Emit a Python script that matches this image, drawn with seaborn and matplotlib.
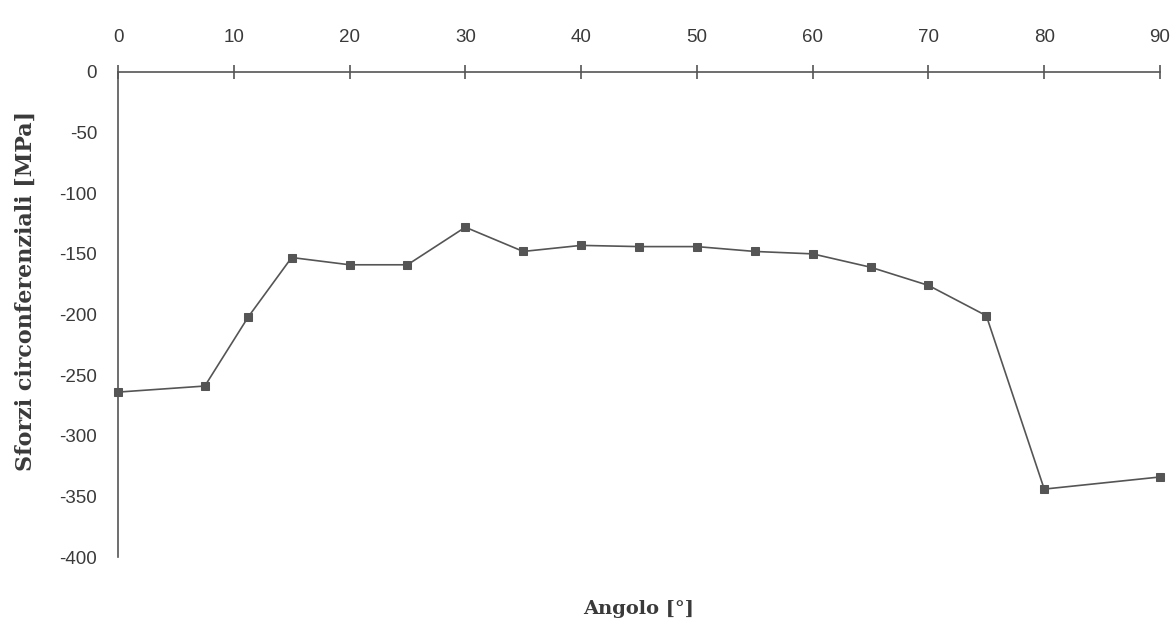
import matplotlib
matplotlib.use("Agg")
import matplotlib.pyplot as plt
import seaborn as sns
import pandas as pd

# Data
angolo = [0, 7.5, 11.25, 15, 20, 25, 30, 35, 40, 45, 50, 55, 60, 65, 70, 75, 80, 90]
sforzi = [-264, -259, -202, -153, -159, -159, -128, -148, -143, -144, -144, -148,
          -150, -161, -176, -201, -344, -334]
x_ticks = [0, 10, 20, 30, 40, 50, 60, 70, 80, 90]
y_ticks = [0, -50, -100, -150, -200, -250, -300, -350, -400]

df = pd.DataFrame({"Angolo": angolo, "Sforzi": sforzi})

sns.set_theme(style="white")
plt.rcParams["font.family"] = ["Liberation Sans", "DejaVu Sans"]
plt.rcParams["axes.unicode_minus"] = False

fig = plt.figure(figsize=(11.74, 6.22), dpi=100)
ax = fig.add_axes([118 / 1174, 1 - 557 / 622, (1160 - 118) / 1174, (557 - 72) / 622])

col = "#555555"
sns.lineplot(data=df, x="Angolo", y="Sforzi", ax=ax, color=col, linewidth=1.2,
             marker="s", markersize=6, markeredgecolor=col, markerfacecolor=col,
             clip_on=False)

ax.set_xlim(0, 90)
ax.set_ylim(-400, 0)
ax.set_xticks(x_ticks)
ax.set_yticks(y_ticks)

for s in ["right", "bottom"]:
    ax.spines[s].set_visible(False)
for s in ["top", "left"]:
    ax.spines[s].set_color(col)
    ax.spines[s].set_linewidth(1.2)

ax.xaxis.tick_top()
ax.tick_params(axis="x", direction="inout", length=10, width=1.2, color=col,
               labelsize=13.5, labelcolor="#3a3a3a", pad=14)
ax.tick_params(axis="y", direction="inout", length=10, width=1.2, color=col,
               labelsize=13.5, labelcolor="#3a3a3a", pad=10)
ax.grid(False)

serif = ["DejaVu Serif", "Liberation Serif"]
ax.set_xlabel("Angolo [°]", fontfamily=serif, fontweight="bold", fontsize=14, color="#3a3a3a")
ax.xaxis.set_label_position("bottom")
ax.xaxis.set_label_coords(0.5, -0.088)

ax.set_ylabel("Sforzi circonferenziali [MPa]", fontfamily=serif, fontweight="bold",
              fontsize=16, color="#3a3a3a")
ax.yaxis.set_label_coords(-0.078, 0.548)

fig.savefig("out.png", dpi=100, facecolor="white")
